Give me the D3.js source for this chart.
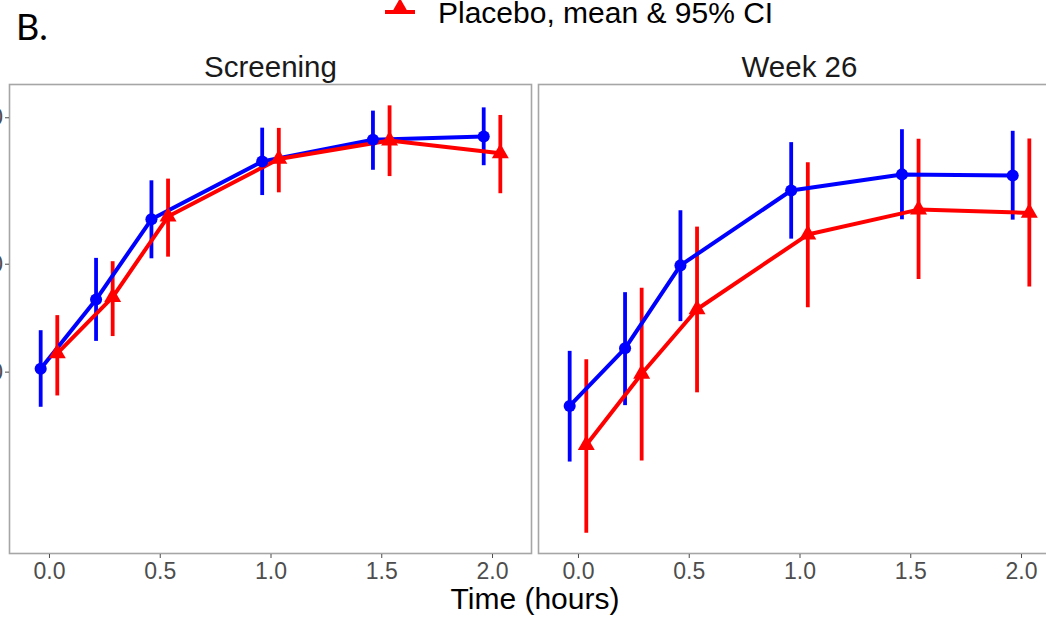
<!DOCTYPE html>
<html>
<head>
<meta charset="utf-8">
<script src="https://cdn.jsdelivr.net/npm/d3@7"></script>
<style>
  html, body { margin: 0; padding: 0; background: #fff; }
  svg { display: block; }
</style>
</head>
<body>
<svg id="chart" width="1046" height="617"></svg>
<script>
// ---------------- data ----------------
const times = [0, 0.25, 0.5, 1, 1.5, 2];
const panels = ["Screening", "Week 26"];
const xTicks = [0, 0.5, 1, 1.5, 2];
const yTicks = [30, 50, 100];

// blue group (treatment), mean & 95% CI
const blueScreenMean = [30.4, 42.2, 61.7, 81.1, 89.9, 91.3];
const blueScreenLo   = [25.4, 34.7, 51.3, 69.2, 78.0, 79.7];
const blueScreenHi   = [36.5, 51.4, 74.2, 95.2, 103.2, 104.8];
const blueW26Mean    = [25.5, 33.5, 49.6, 70.7, 76.3, 75.9];
const blueW26Lo      = [19.6, 25.6, 38.1, 56.3, 61.7, 61.6];
const blueW26Hi      = [33.1, 43.7, 64.4, 88.9, 94.5, 93.8];

// red group (placebo), mean & 95% CI
const redScreenMean  = [32.7, 42.7, 62.5, 82.1, 89.6, 84.3];
const redScreenLo    = [26.8, 35.5, 51.7, 70.1, 75.7, 69.8];
const redScreenHi    = [39.2, 50.6, 74.8, 95.1, 105.8, 101.1];
const redW26Mean     = [21.2, 29.7, 40.3, 57.4, 64.6, 63.6];
const redW26Lo       = [14.0, 19.7, 27.2, 40.7, 46.5, 44.9];
const redW26Hi       = [31.8, 44.6, 59.6, 80.8, 90.3, 90.4];

const legendLabel = "Placebo, mean & 95% CI";
const figLabel = "B.";
const xTitle = "Time (hours)";

// ---------------- build ----------------
const BLUE = "#0000FF", RED = "#FF0000";
const seriesByPanel = [
  [
    {color: BLUE, shape: "circle", dodge: -0.0375, mean: blueScreenMean, lo: blueScreenLo, hi: blueScreenHi},
    {color: RED, shape: "triangle", dodge: 0.0375, mean: redScreenMean, lo: redScreenLo, hi: redScreenHi}
  ],
  [
    {color: BLUE, shape: "circle", dodge: -0.0375, mean: blueW26Mean, lo: blueW26Lo, hi: blueW26Hi},
    {color: RED, shape: "triangle", dodge: 0.0375, mean: redW26Mean, lo: redW26Lo, hi: redW26Hi}
  ]
];

const svg = d3.select("#chart");
const FONT = "'Liberation Sans', Arial, Helvetica, sans-serif";

const panelW = 523, panelTop = 84, panelBottom = 554;
const panelX0 = [9, 538];

// shared y scale (log), with 5% expansion in log space
const allVals = [].concat(blueScreenLo, blueScreenHi, blueW26Lo, blueW26Hi,
                          redScreenLo, redScreenHi, redW26Lo, redW26Hi);
const lmin = Math.log(d3.min(allVals)), lmax = Math.log(d3.max(allVals));
const ex = (lmax - lmin) * 0.05;
const y = d3.scaleLog()
  .domain([Math.exp(lmin - ex), Math.exp(lmax + ex)])
  .range([panelBottom, panelTop]);

const xDomain = [-0.1805, 2.1805];

panels.forEach((pname, pi) => {
  const x0 = panelX0[pi];
  const x = d3.scaleLinear().domain(xDomain).range([x0, x0 + panelW]);
  const g = svg.append("g");

  // panel background + border
  g.append("rect")
    .attr("x", x0 + 0.5).attr("y", panelTop + 0.5)
    .attr("width", panelW - 1).attr("height", panelBottom - panelTop - 1)
    .attr("fill", "#fff").attr("stroke", "#a6a6a6").attr("stroke-width", 1.6);

  // strip title
  g.append("text")
    .attr("x", x0 + panelW / 2).attr("y", 77)
    .attr("text-anchor", "middle")
    .attr("font-family", FONT).attr("font-size", 29.5)
    .attr("fill", "#1a1a1a")
    .text(pname);

  // x axis
  const xAxis = d3.axisBottom(x).tickValues(xTicks).tickFormat(d3.format(".1f"))
    .tickSize(4).tickPadding(5);
  const xa = g.append("g").attr("transform", `translate(0,${panelBottom})`).call(xAxis);
  xa.select(".domain").remove();
  xa.selectAll(".tick line").attr("stroke", "#4d4d4d").attr("stroke-width", 1);
  xa.selectAll(".tick text").attr("font-family", FONT).attr("font-size", 23).attr("fill", "#4d4d4d");

  // y axis (left panel only)
  if (pi === 0) {
    const yAxis = d3.axisLeft(y).tickValues(yTicks).tickFormat(d3.format("d"))
      .tickSize(4).tickPadding(2);
    const ya = g.append("g").attr("transform", `translate(${x0},0)`).call(yAxis);
    ya.select(".domain").remove();
    ya.selectAll(".tick line").attr("stroke", "#4d4d4d").attr("stroke-width", 1);
    ya.selectAll(".tick text").attr("font-family", FONT).attr("font-size", 23).attr("fill", "#4d4d4d");
  }

  const series = seriesByPanel[pi];
  const clipId = "clip" + pi;
  svg.append("clipPath").attr("id", clipId).append("rect")
    .attr("x", x0).attr("y", panelTop).attr("width", panelW).attr("height", panelBottom - panelTop);
  const plot = g.append("g").attr("clip-path", `url(#${clipId})`);

  // error bars
  series.forEach(s => {
    plot.append("g").selectAll("line").data(times).join("line")
      .attr("x1", (t) => x(t + s.dodge)).attr("x2", (t) => x(t + s.dodge))
      .attr("y1", (t, i) => y(s.lo[i])).attr("y2", (t, i) => y(s.hi[i]))
      .attr("stroke", s.color).attr("stroke-width", 3.8);
  });
  // lines
  series.forEach(s => {
    const line = d3.line().x((t) => x(t + s.dodge)).y((t, i) => y(s.mean[i]));
    plot.append("path").datum(times)
      .attr("d", line).attr("fill", "none")
      .attr("stroke", s.color).attr("stroke-width", 4).attr("stroke-linejoin", "round");
  });
  // points
  series.forEach(s => {
    const sym = s.shape === "circle"
      ? d3.symbol().type(d3.symbolCircle).size(115)
      : d3.symbol().type(d3.symbolTriangle).size(125);
    plot.append("g").selectAll("path").data(times).join("path")
      .attr("transform", (t, i) => `translate(${x(t + s.dodge)},${y(s.mean[i])})`)
      .attr("d", sym).attr("fill", s.color);
  });
});

// x axis title
svg.append("text")
  .attr("x", (panelX0[0] + panelX0[1] + panelW) / 2).attr("y", 609)
  .attr("text-anchor", "middle")
  .attr("font-family", FONT).attr("font-size", 30).attr("fill", "#000")
  .text(xTitle);

// figure label
svg.append("text")
  .attr("x", 16).attr("y", 40)
  .attr("font-family", "Lato, 'Open Sans', sans-serif").attr("font-size", 36).attr("fill", "#000")
  .text(figLabel);

// legend (placebo entry)
const lg = svg.append("g");
lg.append("line").attr("x1", 385).attr("x2", 415).attr("y1", 12).attr("y2", 12)
  .attr("stroke", RED).attr("stroke-width", 4);
lg.append("path").attr("transform", "translate(400,8)")
  .attr("d", d3.symbol().type(d3.symbolTriangle).size(125)).attr("fill", RED);
lg.append("text").attr("x", 438).attr("y", 23)
  .attr("font-family", FONT).attr("font-size", 30).attr("fill", "#000")
  .text(legendLabel);
</script>
</body>
</html>
